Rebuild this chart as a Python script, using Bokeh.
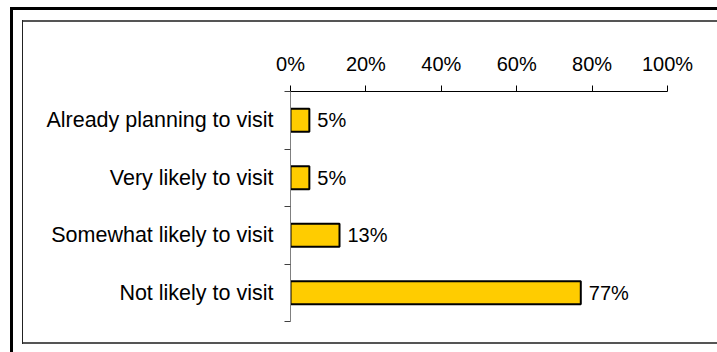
from bokeh.plotting import figure
from bokeh.models import (Range1d, FixedTicker, ColumnDataSource,
                          LabelSet, PrintfTickFormatter)
from bokeh.core.properties import value
from bokeh.embed import file_html
from bokeh.resources import INLINE

categories = ["Already planning to visit", "Very likely to visit",
              "Somewhat likely to visit", "Not likely to visit"]
values = [5, 5, 13, 77]
x_ticks = [0, 20, 40, 60, 80, 100]

n = len(categories)
ypos = [n - i - 0.5 for i in range(n)]
labels = [f"{v}%" for v in values]

src = ColumnDataSource(dict(cat=categories, val=values, y=ypos, lab=labels))

FONT = "Liberation Sans"
FS = "20px"
FS_CAT = "21.5px"

W, H = 717, 352

frame_css = {
    "background-color": "white",
    "background-image": ", ".join(["linear-gradient(#000,#000)"] * 2 +
                                  ["linear-gradient(#222,#222)"] +
                                  ["linear-gradient(#555,#555)"] * 2),
    "background-size": "3px 346px, 707px 3px, 1px 324px, 695px 2px, 695px 2px",
    "background-position": "10px 7px, 10px 7px, 22px 20px, 22px 20px, 22px 342px",
    "background-repeat": "no-repeat",
}

p = figure(width=W, height=H, output_backend="svg", toolbar_location=None,
           x_range=Range1d(0, 100), y_range=Range1d(0, n),
           x_axis_location="above",
           min_border_left=290, min_border_right=50,
           min_border_top=91, min_border_bottom=31,
           styles=frame_css)
p.outline_line_color = None
p.border_fill_color = None
p.background_fill_color = None
p.xgrid.visible = False
p.ygrid.visible = False

p.hbar(y="y", left=0, right="val", height=0.4, source=src,
       fill_color="#FFCC00", line_color="black", line_width=2)

p.add_layout(LabelSet(x="val", y="y", text="lab", source=src, x_offset=8,
                      text_baseline="middle", text_font=value(FONT),
                      text_font_size=FS, text_color="black"))

xa = p.xaxis[0]
xa.ticker = FixedTicker(ticks=x_ticks)
xa.formatter = PrintfTickFormatter(format="%d%%")
xa.major_tick_out = 6
xa.major_tick_in = 0
xa.minor_tick_out = 0
xa.minor_tick_in = 0
xa.axis_line_color = "black"
xa.major_tick_line_color = "black"
xa.major_label_text_font = FONT
xa.major_label_text_font_size = FS
xa.major_label_text_color = "black"
xa.major_label_standoff = 11

ya = p.yaxis[0]
ya.ticker = FixedTicker(ticks=ypos, minor_ticks=list(range(n + 1)))
ya.major_label_overrides = {y: c for y, c in zip(ypos, categories)}
ya.major_tick_line_color = None
ya.major_tick_out = 0
ya.major_tick_in = 0
ya.minor_tick_out = 6
ya.minor_tick_in = 0
ya.minor_tick_line_color = "#404040"
ya.axis_line_color = "#808080"
ya.major_label_text_font = FONT
ya.major_label_text_font_size = FS_CAT
ya.major_label_text_color = "black"
ya.major_label_standoff = 11

open("out.html", "w").write(file_html(p, INLINE))
